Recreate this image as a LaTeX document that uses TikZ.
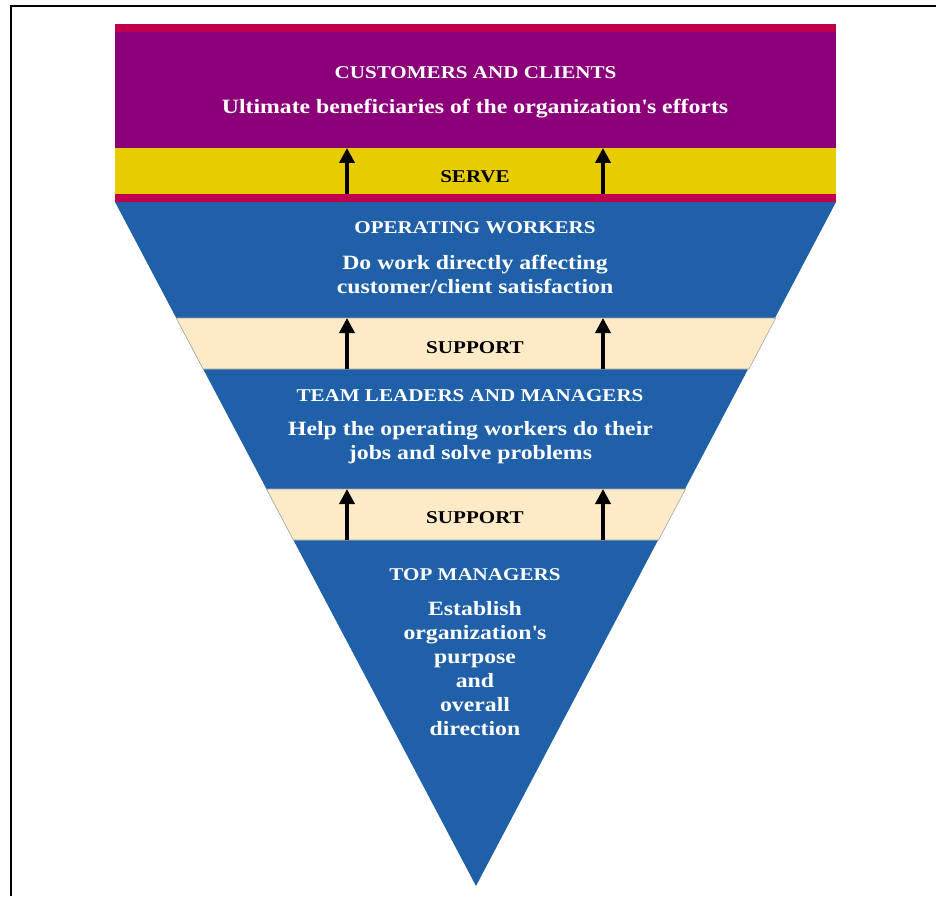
\documentclass[tikz,border=0pt]{standalone}
\usepackage{fontspec}
\setmainfont[FakeStretch=1.17]{Liberation Serif}
\usetikzlibrary{arrows.meta}
\definecolor{crim}{HTML}{C0004C}
\definecolor{purp}{HTML}{8B0078}
\definecolor{yell}{HTML}{E6CC00}
\definecolor{tanb}{HTML}{FDEBC8}
\definecolor{blueb}{HTML}{2060A8}
\tikzset{
  wtitle/.style={text=white,font=\fontsize{18}{22}\selectfont\bfseries,inner sep=0pt},
  wbody/.style={text=white,font=\fontsize{20.3}{24}\selectfont\bfseries,align=center,inner sep=0pt},
  btitle/.style={text=black,font=\fontsize{18}{22}\selectfont\bfseries,inner sep=0pt},
  uparrow/.style={-{Triangle[width=15pt,length=15pt]},line width=3.5pt,black},
  band/.style={draw=black!35,line width=0.6pt,fill=tanb}
}
\begin{document}
\begin{tikzpicture}[x=1pt,y=-1pt]
\useasboundingbox (0,0) rectangle (936,896);
\fill[white] (0,0) rectangle (936,896);
\draw[line width=1.3pt] (11,896) -- (11,6) -- (936,6);
% inverted triangle
\fill[blueb] (115,202) -- (836,202) -- (476,886) -- cycle;
% top blocks
\fill[crim] (115,24) rectangle (836,32);
\fill[purp] (115,32) rectangle (836,148);
\fill[yell] (115,148) rectangle (836,194);
\fill[crim] (115,194) rectangle (836,202);
% support bands
\path[band] (176.2,318) -- (775.8,318) -- (748.9,369) -- (203.1,369) -- cycle;
\path[band] (266.5,489) -- (685.5,489) -- (658.6,540) -- (293.4,540) -- cycle;
% arrow coordinates
\coordinate (s1b) at (347,194); \coordinate (s1t) at (347,148);
\coordinate (s2b) at (603,194); \coordinate (s2t) at (603,148);
\coordinate (p1b) at (347,369); \coordinate (p1t) at (347,318);
\coordinate (p2b) at (603,369); \coordinate (p2t) at (603,318);
\coordinate (q1b) at (347,540); \coordinate (q1t) at (347,489);
\coordinate (q2b) at (603,540); \coordinate (q2t) at (603,489);
\draw[uparrow] (s1b) -- (s1t);
\draw[uparrow] (s2b) -- (s2t);
\draw[uparrow] (p1b) -- (p1t);
\draw[uparrow] (p2b) -- (p2t);
\draw[uparrow] (q1b) -- (q1t);
\draw[uparrow] (q2b) -- (q2t);
% texts
\node[wtitle] (cc) at (475.5,73) {CUSTOMERS AND CLIENTS};
\node[wbody] (ccb) at (475,109) {Ultimate beneficiaries of the organization\textquotesingle s efforts};
\node[btitle] (serve) at (475,177) {SERVE};
\node[wtitle] (ow) at (475,228) {OPERATING WORKERS};
\node[wbody] (owb) at (475,274.5) {Do work directly affecting\\customer/client satisfaction};
\node[btitle] (sup1) at (475,348) {SUPPORT};
\node[wtitle] (tl) at (470,396) {TEAM LEADERS AND MANAGERS};
\node[wbody] (tlb) at (470.5,443) {Help the operating workers do their\\jobs and solve problems};
\node[btitle] (sup2) at (475,518) {SUPPORT};
\node[wtitle] (tm) at (475,575) {TOP MANAGERS};
\node[wbody] (tmb) at (475,669) {Establish\\organization\textquotesingle s\\purpose\\and\\overall\\direction};
\end{tikzpicture}
\end{document}
